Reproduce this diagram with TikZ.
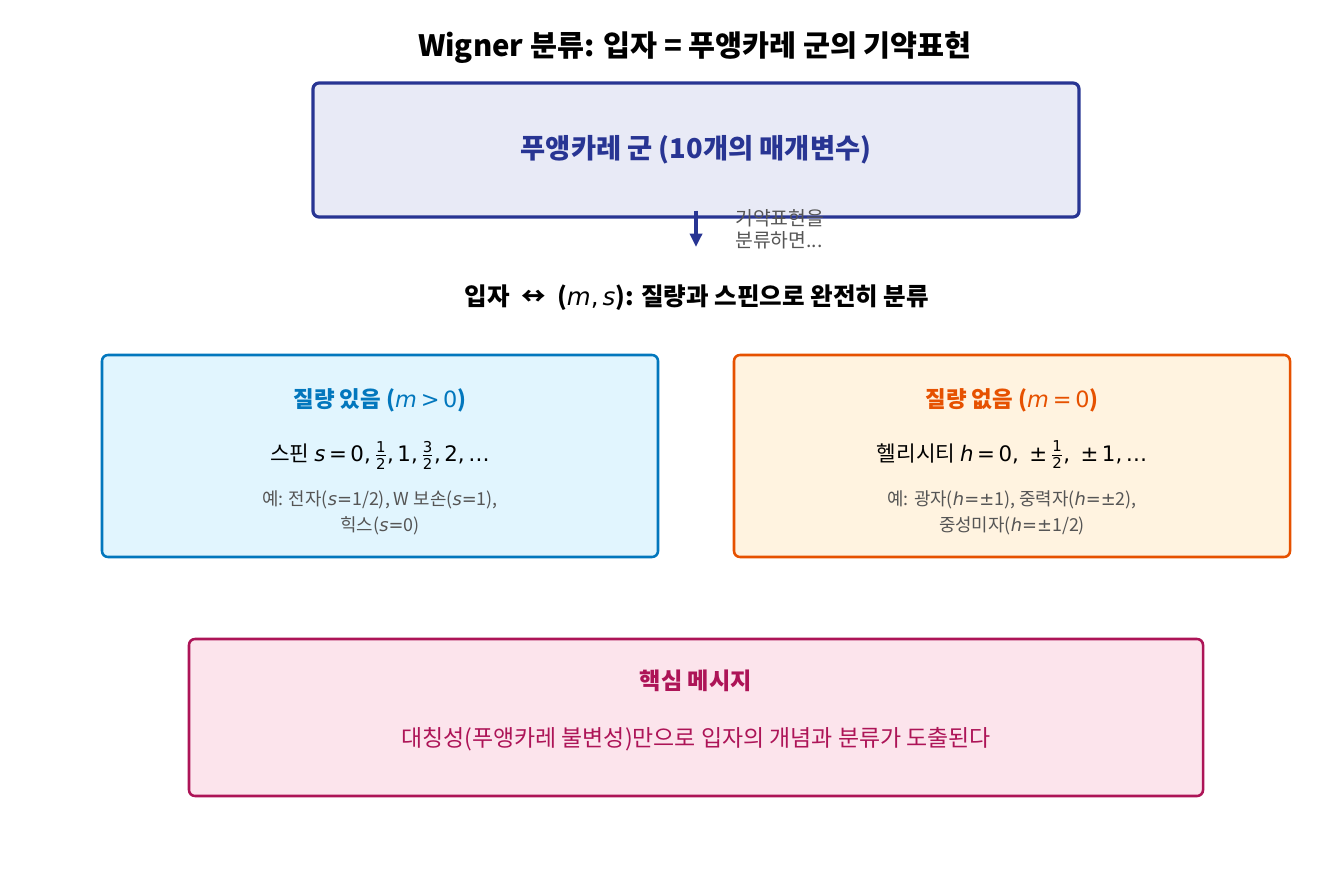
\documentclass[tikz,border=0pt]{standalone}
\usepackage{amsmath}
\usepackage{fontspec}
\setmainfont{Noto Sans CJK KR}
\newfontfamily\dejavu{DejaVu Sans}
\usetikzlibrary{arrows.meta,positioning}

\definecolor{indigoline}{RGB}{40,53,147}
\definecolor{indigofill}{RGB}{232,234,246}
\definecolor{massline}{RGB}{2,119,189}
\definecolor{massfill}{RGB}{225,245,254}
\definecolor{zeroline}{RGB}{230,81,0}
\definecolor{zerofill}{RGB}{255,243,224}
\definecolor{keyline}{RGB}{173,20,87}
\definecolor{keyfill}{RGB}{252,228,236}
\definecolor{notegray}{RGB}{85,85,85}

\newcommand{\vm}[1]{{\dejavu\itshape #1}}
\newcommand{\fr}[2]{$\frac{\text{\dejavu #1}}{\text{\dejavu #2}}$}

\tikzset{
  panel/.style={draw, rounded corners=4.5pt, line width=1.9pt, inner sep=0pt},
  headtxt/.style={font=\fontsize{16.8}{20}\selectfont\bfseries},
  bodytxt/.style={font=\fontsize{16}{19}\selectfont},
  notetxt/.style={font=\fontsize{13.4}{20}\selectfont, text=notegray, align=center},
}

\begin{document}
\begin{tikzpicture}[x=0.75pt,y=0.75pt,yscale=-1,xscale=1]
\useasboundingbox (0,0) rectangle (1330,880);

%Shape: Rounded Rect [id:poincare]
\node [panel, line width=2.4pt, draw=indigoline, fill=indigofill, minimum width=574.5pt, minimum height=100.5pt] (poincare) at (696,150) {};
%Shape: Rounded Rect [id:massive]
\node [panel, draw=massline, fill=massfill, minimum width=417pt, minimum height=151.5pt] (massive) at (380,456) {};
%Shape: Rounded Rect [id:massless]
\node [panel, draw=zeroline, fill=zerofill, minimum width=417pt, minimum height=151.5pt] (massless) at (1012,456) {};
%Shape: Rounded Rect [id:keymsg]
\node [panel, draw=keyline, fill=keyfill, minimum width=760.5pt, minimum height=117.75pt] (keymsg) at (696,717.5) {};

%Straight Lines [id:classify]
\coordinate (clsend) at (696,247);
\draw [draw=indigoline, fill=indigoline, line width=2.6pt, -{Stealth[length=10pt,width=9pt,inset=0pt]}] ([yshift=-6pt]poincare.south) -- (clsend);

% Text Node
\node [font=\fontsize{22}{26}\selectfont\bfseries] (title) at (695,48) {Wigner 분류: 입자 = 푸앵카레 군의 기약표현};
% Text Node
\node [font=\fontsize{20.5}{24}\selectfont\bfseries, text=indigoline] (poincaretxt) at (poincare.center) {푸앵카레 군 (10개의 매개변수)};
% Text Node
\node [font=\fontsize{14.5}{16.5}\selectfont, text=notegray, align=left, anchor=west, inner sep=0pt] (clslabel) at (735,229) {기약표현을\\분류하면...};
% Text Node
\node [font=\fontsize{18.4}{22}\selectfont\bfseries] (particle) at (697,298) {입자 ~↔~ ({\dejavu\mdseries\itshape m}{\dejavu\mdseries ,\,}{\dejavu\mdseries\itshape s}): 질량과 스핀으로 완전히 분류};

% Text Node
\node [headtxt, text=massline] (massivehead) at (380,400) {질량 있음 ({\dejavu\mdseries \vm{m}\,>\,0})};
% Text Node
\node [bodytxt] (massivespin) at (380,455) {스핀 \vm{s}{\dejavu\,=\,0,\,}\fr{1}{2}{\dejavu,\,1,\,}\fr{3}{2}{\dejavu,\,2,\,…}};
% Text Node
\node [notetxt] (massiveex) at (380,513) {예: 전자(\vm{s}{\dejavu =}1/2), W 보손(\vm{s}{\dejavu =}1),\\힉스(\vm{s}{\dejavu =}0)};

% Text Node
\node [headtxt, text=zeroline] (masslesshead) at (1012,400) {질량 없음 ({\dejavu\mdseries \vm{m}\,=\,0})};
% Text Node
\node [bodytxt] (masslesshel) at (1012,455) {헬리시티 \vm{h}{\dejavu\,=\,0,\, ±\,}\fr{1}{2}{\dejavu,\, ±\,1,\,…}};
% Text Node
\node [notetxt] (masslessex) at (1012,513) {예: 광자(\vm{h}{\dejavu =±}1), 중력자(\vm{h}{\dejavu =±}2),\\중성미자(\vm{h}{\dejavu =±}1/2)};

% Text Node
\node [headtxt, font=\fontsize{17.4}{20}\selectfont\bfseries, text=keyline] (keyhead) at (696,681) {핵심 메시지};
% Text Node
\node [bodytxt, font=\fontsize{17.2}{20}\selectfont, text=keyline] (keytxt) at (696,739) {대칭성(푸앵카레 불변성)만으로 입자의 개념과 분류가 도출된다};

\end{tikzpicture}
\end{document}
